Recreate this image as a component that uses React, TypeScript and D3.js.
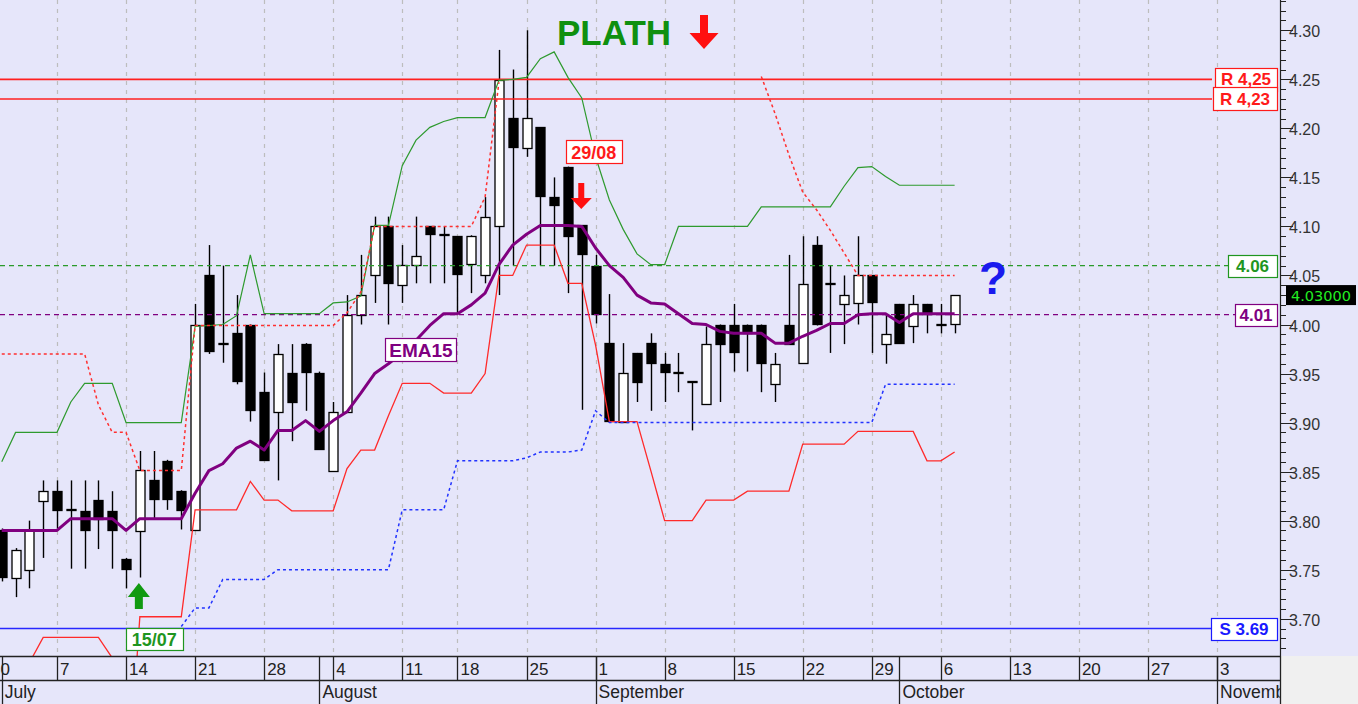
import React from "react";
import * as d3 from "d3";

const FONT = "'Liberation Sans', Arial, Helvetica, sans-serif";

// first trading-day index of the arrays below (index 0 = Monday 30 June)
const FIRST = 1;

const opens = [3.790,3.741,3.749,3.820,3.830,3.812,3.810,3.821,3.810,3.761,
  3.790,3.841,3.861,3.830,3.790,4.050,3.981,3.991,3.999,3.931,
  3.911,3.951,3.980,3.951,3.851,3.911,4.010,4.050,4.100,4.041,
  4.061,4.100,4.092,4.090,4.061,4.051,4.100,4.211,4.180,4.201,
  4.130,4.161,4.101,4.060,3.981,3.901,3.971,3.981,3.960,3.952,
  3.942,3.919,4.000,4.000,4.000,4.000,3.940,4.000,3.960,4.081,
  4.042,4.021,4.021,4.050,3.980,4.021,3.999,4.021,4.001,4.000];
const highs = [3.792,3.772,3.800,3.841,3.841,3.841,3.841,3.841,3.830,3.762,
  3.871,3.871,3.862,3.831,4.021,4.081,4.060,4.030,4.000,3.951,
  3.980,3.980,3.981,3.952,3.921,4.030,4.071,4.110,4.110,4.081,
  4.110,4.100,4.100,4.090,4.091,4.130,4.280,4.260,4.300,4.201,
  4.150,4.161,4.101,4.071,4.031,3.981,3.971,3.991,3.971,3.971,
  3.942,3.998,4.000,4.021,4.000,4.000,3.971,4.071,4.090,4.090,
  4.060,4.050,4.090,4.050,4.010,4.021,4.030,4.021,4.021,4.030];
const lows = [3.738,3.722,3.731,3.762,3.792,3.751,3.751,3.771,3.751,3.731,
  3.742,3.802,3.811,3.791,3.790,3.970,3.961,3.939,3.901,3.861,
  3.841,3.881,3.912,3.872,3.850,3.910,4.000,4.022,4.000,4.022,
  4.042,4.042,4.042,4.011,4.032,4.042,4.030,4.060,4.171,4.060,
  4.060,4.032,3.913,4.001,3.900,3.900,3.921,3.912,3.921,3.931,
  3.892,3.919,3.921,3.952,3.952,3.931,3.921,3.980,3.960,3.999,
  3.971,3.980,4.000,3.971,3.960,3.981,3.981,3.991,3.991,3.991];
const closes = [3.742,3.770,3.790,3.830,3.811,3.812,3.791,3.802,3.791,3.751,
  3.852,3.822,3.822,3.811,3.999,3.972,3.981,3.942,3.912,3.862,
  3.970,3.921,3.951,3.873,3.911,4.010,4.030,4.100,4.042,4.061,
  4.070,4.092,4.092,4.051,4.090,4.110,4.249,4.181,4.211,4.131,
  4.122,4.091,4.071,4.011,3.901,3.951,3.941,3.961,3.952,3.952,
  3.942,3.980,3.981,3.972,3.992,3.961,3.960,3.981,4.041,4.000,
  4.042,4.030,4.050,4.022,3.990,3.981,4.021,4.011,4.001,4.030];

const ema15 = [3.790,3.790,3.790,3.790,3.790,3.802,3.802,3.802,3.802,3.790,
  3.802,3.802,3.802,3.802,3.828,3.851,3.858,3.874,3.881,3.872,
  3.892,3.892,3.902,3.891,3.902,3.911,3.930,3.950,3.960,3.971,
  3.984,3.999,4.011,4.011,4.020,4.032,4.061,4.081,4.092,4.101,
  4.101,4.101,4.100,4.078,4.060,4.048,4.030,4.022,4.021,4.011,
  4.001,4.000,3.993,3.991,3.991,3.991,3.981,3.981,3.988,3.994,
  4.001,4.001,4.010,4.011,4.011,4.002,4.011,4.011,4.011,4.011];

const upperBand = [3.860,3.890,3.890,3.890,3.890,3.921,3.940,3.940,3.940,3.900,
  3.900,3.900,3.900,3.900,3.998,3.999,4.000,4.009,4.071,4.011,
  4.011,4.011,4.011,4.011,4.022,4.023,4.029,4.101,4.101,4.162,
  4.188,4.201,4.207,4.211,4.211,4.211,4.249,4.250,4.252,4.271,
  4.278,4.252,4.231,4.171,4.127,4.097,4.072,4.061,4.061,4.100,
  4.100,4.100,4.100,4.100,4.100,4.120,4.120,4.120,4.120,4.120,
  4.120,4.141,4.160,4.161,4.151,4.142,4.142,4.142,4.142,4.142];

const lowerBand = [3.600,3.600,3.655,3.681,3.681,3.681,3.681,3.681,3.660,3.500,
  3.702,3.702,3.702,3.702,3.811,3.811,3.811,3.811,3.840,3.821,
  3.821,3.810,3.810,3.810,3.810,3.853,3.872,3.872,3.907,3.940,
  3.940,3.940,3.930,3.930,3.930,3.950,4.050,4.050,4.081,4.081,
  4.081,4.042,4.042,3.979,3.901,3.901,3.901,3.851,3.800,3.800,
  3.800,3.821,3.821,3.821,3.830,3.830,3.830,3.830,3.878,3.878,
  3.878,3.878,3.891,3.891,3.891,3.891,3.891,3.861,3.861,3.870];

const stopAbove: (number | null)[] = [3.970,3.970,3.970,3.970,3.970,3.970,3.970,3.918,3.890,3.890,
  3.851,3.851,3.851,3.851,3.999,3.999,3.999,3.999,3.999,3.999,
  3.999,3.999,3.999,3.999,3.999,4.012,4.033,4.100,4.100,4.100,
  4.100,4.100,4.100,4.100,4.100,4.130,4.247,null,null,null,
  null,null,null,null,null,null,null,null,null,null,
  null,null,null,null,null,4.253,4.215,4.173,4.135,4.117,
  4.096,4.073,4.050,4.050,4.050,4.050,4.050,4.050,4.050,4.050];

const stopBelow: (number | null)[] = [null,null,null,null,null,null,null,null,null,null,
  null,null,null,3.692,3.711,3.711,3.740,3.740,3.740,3.740,
  3.750,3.750,3.750,3.750,3.750,3.750,3.750,3.750,3.750,3.811,
  3.811,3.811,3.811,3.861,3.861,3.861,3.861,3.861,3.864,3.870,
  3.870,3.870,3.872,3.912,3.900,3.900,3.900,3.900,3.900,3.900,
  3.900,3.900,3.900,3.900,3.900,3.900,3.900,3.900,3.900,3.900,
  3.900,3.900,3.900,3.900,3.939,3.939,3.939,3.939,3.939,3.939];

const resistanceLevels = [4.25, 4.23];
const resistanceLabels = ["R 4,25", "R 4,23"];
const supportLevels = [3.69];
const supportLabels = ["S 3.69"];
const targetLevel = 4.06;
const emaLevel = 4.01;
const lastPrice = 4.03;

const weekIdx = [0,5,10,15,20,25,30,34,39,44,49,54,59,64,69,74,79,84,89];
const weekLabels = ["30","7","14","21","28","4","11","18","25","1","8","15","22","29","6","13","20","27","3"];
const monthIdx = [1,24,44,66,89];
const monthLabels = ["July","August","September","October","November"];

const yTickLabels = ["3.70","3.75","3.80","3.85","3.90","3.95","4.00","4.05","4.10","4.15","4.20","4.25","4.30"];

const signalUpIdx = 11;   // 15/07
const signalDownIdx = 43; // 29/08

export default function App() {
  const W = 1358, H = 704, PR = 1280, PB = 656;
  const x = d3.scaleLinear().domain([0, 89]).range([-12.05, 1217]);
  const y = d3.scaleLinear().domain([3.7, 4.3]).range([618.7, 30.3]);
  const px = (v: number) => Math.round(v) + 0.5;

  const mkLine = (arr: (number | null)[]) =>
    d3.line<number | null>()
      .defined((v) => v != null)
      .x((_, k) => x(k + FIRST))
      .y((v) => y(v as number))(arr) || "";

  const minorTicks = d3.range(367, 434).map((v) => v / 100);

  const downArrow = (cx: number, top: number, bottom: number, sw: number, hw: number, hh: number) =>
    `M${cx - sw / 2},${top} L${cx + sw / 2},${top} L${cx + sw / 2},${bottom - hh} L${cx + hw / 2},${bottom - hh} L${cx},${bottom} L${cx - hw / 2},${bottom - hh} L${cx - sw / 2},${bottom - hh} Z`;
  const upArrow = (cx: number, top: number, bottom: number, sw: number, hw: number, hh: number) =>
    `M${cx},${top} L${cx + hw / 2},${top + hh} L${cx + sw / 2},${top + hh} L${cx + sw / 2},${bottom} L${cx - sw / 2},${bottom} L${cx - sw / 2},${top + hh} L${cx - hw / 2},${top + hh} Z`;

  const labelBox = (value: number, text: string, color: string, w: number, key: string, h = 22) => {
    const cy = y(value);
    return (
      <g key={key}>
        <rect x={1277 - w + 0.5} y={Math.round(cy - h / 2) + 0.5} width={w} height={h} fill="#fff" stroke={color} strokeWidth={1.2} />
        <text x={1277 - w / 2} y={cy + 6} textAnchor="middle" fontFamily={FONT} fontWeight="bold" fontSize={17} fill={color}>{text}</text>
      </g>
    );
  };

  const candles = opens.map((o, k) => {
    const i = k + FIRST;
    const c = closes[k];
    const cx = px(x(i));
    const top = y(Math.max(o, c));
    const bot = y(Math.min(o, c));
    const up = c >= o;
    return (
      <g key={"c" + i}>
        <line x1={cx} x2={cx} y1={y(highs[k])} y2={y(lows[k])} stroke="#000" strokeWidth={1.4} />
        <rect x={cx - 4.5} y={Math.round(top) + 0.5} width={9} height={Math.max(1, Math.round(bot - top))}
          fill={up ? "#fff" : "#000"} stroke="#000" strokeWidth={1.3} />
      </g>
    );
  });

  const xUp = x(signalUpIdx);
  const xDn = x(signalDownIdx);

  return (
    <svg width={W} height={H} style={{ position: "absolute", left: 0, top: 0, display: "block" }}>
      <defs>
        <clipPath id="plot"><rect x={0} y={0} width={PR} height={PB} /></clipPath>
      </defs>
      <rect x={0} y={0} width={W} height={H} fill="#e6e6fa" />
      <rect x={PR + 1} y={PB} width={W - PR - 1} height={H - PB} fill="#f0f0f0" />

      {/* vertical gridlines */}
      <g clipPath="url(#plot)">
        {weekIdx.map((i) => (
          <line key={"g" + i} x1={px(x(i))} x2={px(x(i))} y1={0} y2={PB} stroke="#bdbdbd" strokeWidth={1.2} strokeDasharray="4,5" />
        ))}
      </g>

      <g clipPath="url(#plot)">
        {candles}
      </g>

      {/* horizontal levels */}
      {resistanceLevels.map((v, k) => (
        <line key={"r" + k} x1={0} x2={1212} y1={y(v)} y2={y(v)} stroke="#ff2020" strokeWidth={1.6} />
      ))}
      {supportLevels.map((v, k) => (
        <line key={"s" + k} x1={0} x2={1211} y1={y(v)} y2={y(v)} stroke="#2828ff" strokeWidth={1.4} />
      ))}
      <line x1={0} x2={1228} y1={y(targetLevel)} y2={y(targetLevel)} stroke="#2a9a2a" strokeWidth={1.3} strokeDasharray="5,4" />
      <line x1={0} x2={1235} y1={y(emaLevel)} y2={y(emaLevel)} stroke="#800080" strokeWidth={1.3} strokeDasharray="5,4" />

      {/* indicator lines */}
      <g clipPath="url(#plot)" fill="none">
        <path d={mkLine(upperBand)} stroke="#2e9a2e" strokeWidth={1.2} />
        <path d={mkLine(lowerBand)} stroke="#ff2a2a" strokeWidth={1.3} />
        <path d={mkLine(stopAbove)} stroke="#ff3030" strokeWidth={1.5} strokeDasharray="3,3" />
        <path d={mkLine(stopBelow)} stroke="#2233ff" strokeWidth={1.5} strokeDasharray="3,3" />
        <path d={mkLine(ema15)} stroke="#800080" strokeWidth={3} strokeLinejoin="round" />
      </g>

      {/* level labels */}
      {resistanceLevels.map((v, k) => labelBox(v, resistanceLabels[k], "#ff1a1a", k === 0 ? 62 : 64, "rl" + k, 23))}
      {supportLevels.map((v, k) => labelBox(v, supportLabels[k], "#1a1aff", 66, "sl" + k))}
      {labelBox(targetLevel, "4.06", "#1f961f", 49, "tl")}
      {labelBox(emaLevel, "4.01", "#800080", 42, "el")}

      {/* annotations */}
      <text x={557} y={45} fontFamily={FONT} fontWeight="bold" fontSize={35} fill="#0f900f">PLATH</text>
      <path d={downArrow(704, 15, 49, 8, 29, 16)} fill="#ff1010" />
      <rect x={px(xDn - 16)} y={140.5} width={56} height={23} fill="#fff" stroke="#ff1a1a" strokeWidth={1.2} />
      <text x={xDn + 12} y={159} textAnchor="middle" fontFamily={FONT} fontWeight="bold" fontSize={18} fill="#ff1a1a">29/08</text>
      <path d={downArrow(xDn - 0.5, 183, 209, 6, 21, 11)} fill="#ff1010" />
      <path d={upArrow(xUp - 1, 583, 609, 8, 22, 14)} fill="#119a11" />
      <rect x={px(xUp - 14)} y={628.5} width={57} height={22} fill="#fff" stroke="#1f961f" strokeWidth={1.2} />
      <text x={xUp + 14.5} y={646} textAnchor="middle" fontFamily={FONT} fontWeight="bold" fontSize={18} fill="#1f961f">15/07</text>
      <rect x={385.5} y={338.5} width={71} height={23} fill="#fff" stroke="#800080" strokeWidth={1.2} />
      <text x={421} y={357} textAnchor="middle" fontFamily={FONT} fontWeight="bold" fontSize={19} fill="#800080">EMA15</text>
      <text x={993} y={294} textAnchor="middle" fontFamily={FONT} fontWeight="bold" fontSize={46} fill="#1a1aee">?</text>

      {/* y axis */}
      <line x1={PR + 0.5} x2={PR + 0.5} y1={0} y2={PB} stroke="#222" strokeWidth={1.2} />
      {minorTicks.map((v) => {
        const major = Math.round(v * 100) % 5 === 0;
        const yy = px(y(v));
        if (yy < 0 || yy > PB) return null;
        return <line key={"t" + v} x1={PR} x2={PR + (major ? 13 : 6)} y1={yy} y2={yy} stroke="#222" strokeWidth={1} />;
      })}
      {yTickLabels.map((t) => (
        <text key={"yl" + t} x={1289} y={y(+t) + 7} fontFamily={FONT} fontSize={16} fill="#333">{t}</text>
      ))}
      <rect x={1286} y={y(lastPrice) - 10} width={70} height={20} fill="#000" />
      <text x={1321} y={y(lastPrice) + 5.5} textAnchor="middle" fontFamily="'DejaVu Sans', Verdana, sans-serif" fontSize={14.5} fill="#22ee22">4.03000</text>

      {/* x axis */}
      <line x1={0} x2={PR} y1={PB + 0.5} y2={PB + 0.5} stroke="#222" strokeWidth={1.3} />
      <line x1={0} x2={PR} y1={680.5} y2={680.5} stroke="#222" strokeWidth={1.3} />
      <line x1={PR + 0.5} x2={PR + 0.5} y1={PB} y2={H} stroke="#222" strokeWidth={1.3} />
      <svg x={0} y={PB} width={PR} height={H - PB} overflow="hidden">
        {weekIdx.map((i, k) => (
          <g key={"w" + i}>
            <line x1={px(x(i))} x2={px(x(i))} y1={0} y2={24} stroke="#222" strokeWidth={1.3} />
            <text x={x(i) + 3} y={19} fontFamily={FONT} fontSize={17} fill="#222">{weekLabels[k]}</text>
          </g>
        ))}
        {monthIdx.map((i, k) => (
          <g key={"m" + i}>
            <line x1={px(x(i))} x2={px(x(i))} y1={0} y2={H - PB} stroke="#222" strokeWidth={1.3} />
            <text x={Math.max(x(i), 0) + 3} y={42} fontFamily={FONT} fontSize={17.5} fill="#222">{monthLabels[k]}</text>
          </g>
        ))}
      </svg>
    </svg>
  );
}
